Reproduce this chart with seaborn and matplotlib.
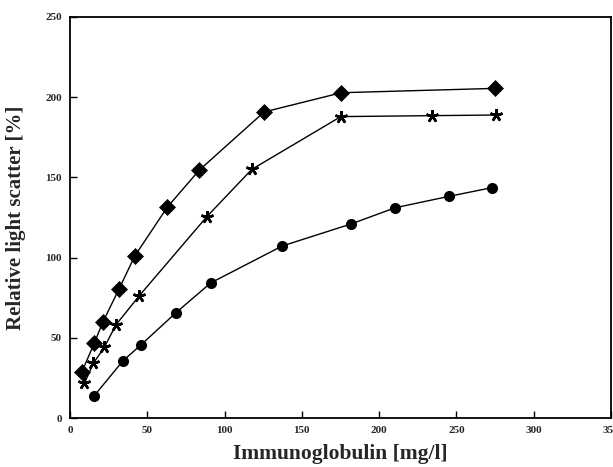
import matplotlib
matplotlib.use("Agg")
import matplotlib.pyplot as plt
import seaborn as sns
import pandas as pd

# Data
diamond_x = [7.5, 15.7, 21.2, 31.7, 41.9, 63.0, 83.7, 125.6, 175.6, 275.0]
diamond_y = [28.4, 46.6, 59.7, 80.4, 101.0, 131.5, 154.6, 190.8, 202.8, 205.5]

star_x = [9.3, 15.1, 22.2, 29.8, 44.9, 88.5, 117.6, 175.2, 234.3, 275.7]
star_y = [21.6, 34.1, 44.1, 58.2, 76.3, 125.5, 155.0, 187.9, 188.5, 188.9]

circle_x = [15.7, 34.3, 45.8, 68.4, 91.0, 137.2, 181.9, 210.4, 245.3, 272.9]
circle_y = [13.9, 35.7, 45.5, 65.5, 84.2, 107.2, 121.0, 131.1, 138.2, 143.6]

x_ticks = [0, 50, 100, 150, 200, 250, 300, 350]
y_ticks = [0, 50, 100, 150, 200, 250]

x_label = "Immunoglobulin [mg/l]"
y_label = "Relative light scatter [%]"

sns.set_theme(style="white")
plt.rcParams['font.family'] = ['Liberation Serif', 'DejaVu Serif']

fig = plt.figure(figsize=(6.13, 4.67), dpi=100)
ax = fig.add_axes([0.1142, 0.1049, 0.8825, 0.8587])

series = [
    (diamond_x, diamond_y, "D", 8, 0.5),
    (star_x, star_y, (5, 2, 0), 9, 1.8),
    (circle_x, circle_y, "o", 8, 0),
]
for xs, ys, mk, ms, mew in series:
    df = pd.DataFrame({"x": xs, "y": ys})
    sns.lineplot(data=df, x="x", y="y", ax=ax, color="black", linewidth=1.0,
                 marker=mk, markersize=ms, markeredgecolor="black",
                 markerfacecolor="black", markeredgewidth=mew,
                 sort=False, legend=False)

ax.set_xlim(0, 350)
ax.set_ylim(0, 250)
ax.set_xticks(x_ticks)
ax.set_yticks(y_ticks)
ax.set_xticklabels([str(t) for t in x_ticks], fontsize=8, fontweight="bold")
ax.set_yticklabels([str(t) for t in y_ticks], fontsize=8, fontweight="bold")
ax.tick_params(axis="both", direction="in", length=5, width=1.0, color="black",
               pad=6, bottom=True, left=True)
ax.set_xlabel(x_label, fontsize=15.5, fontweight="bold", labelpad=6)
ax.set_ylabel(y_label, fontsize=15, fontweight="bold", labelpad=14)
for s in ax.spines.values():
    s.set_color("black")
    s.set_linewidth(1.3)

fig.savefig("out.png", dpi=100, facecolor="white")
